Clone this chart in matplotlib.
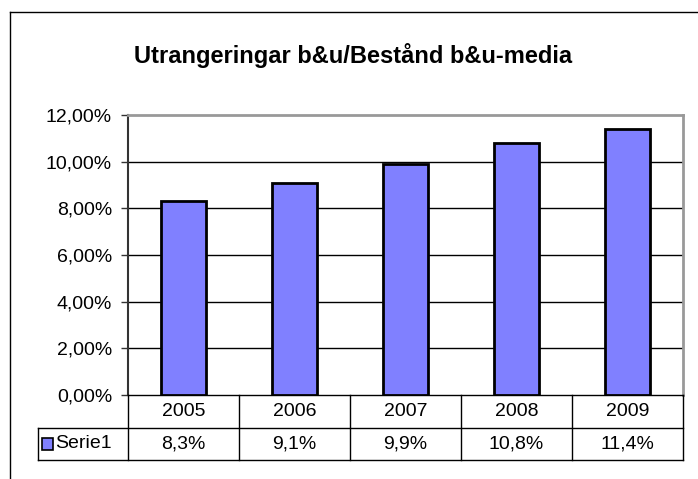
import matplotlib
matplotlib.use("Agg")
import matplotlib.pyplot as plt
from matplotlib.lines import Line2D
from matplotlib.patches import Rectangle

plt.rcParams['font.family'] = ['Liberation Sans', 'DejaVu Sans']

years = ['2005', '2006', '2007', '2008', '2009']
values = [0.083, 0.091, 0.099, 0.108, 0.114]
value_labels = ['8,3%', '9,1%', '9,9%', '10,8%', '11,4%']
yticks = [0.0, 0.02, 0.04, 0.06, 0.08, 0.10, 0.12]
ytick_labels = ['0,00%', '2,00%', '4,00%', '6,00%', '8,00%', '10,00%', '12,00%']
series_name = 'Serie1'
title = 'Utrangeringar b&u/Bestånd b&u-media'

W, H = 698, 479
fig = plt.figure(figsize=(W / 100, H / 100), dpi=100)


def fx(px):
    return px / W


def fy(py):
    return 1 - py / H


# plot area in pixel coords
L, T, R, B = 128, 115, 683, 395
ax = fig.add_axes([fx(L), fy(B), fx(R) - fx(L), fy(T) - fy(B)])

x = range(len(years))
ax.bar(x, values, width=0.41, color='#8080ff', edgecolor='black', linewidth=2, zorder=3)

ax.set_xlim(-0.5, len(years) - 0.5)
ax.set_ylim(0, 0.12)
ax.set_yticks(yticks)
ax.set_yticklabels(ytick_labels, fontsize=14)
ax.set_xticks([])
ax.tick_params(axis='y', length=5, width=1, pad=6.5, color='#333333')
for yv in yticks[1:-1]:
    ax.axhline(yv, color='black', linewidth=1, zorder=1)

ax.spines['left'].set_color('#333333')
ax.spines['left'].set_linewidth(1.5)
for s in ('top', 'right'):
    ax.spines[s].set_color('#999999')
    ax.spines[s].set_linewidth(2)
ax.spines['bottom'].set_color('black')
ax.spines['bottom'].set_linewidth(1)

# data table under the axis
row1, row2 = 428, 460
line_kw = dict(color='black', linewidth=1)
fig.add_artist(Line2D([fx(38), fx(R)], [fy(row1), fy(row1)], **line_kw))
fig.add_artist(Line2D([fx(38), fx(R)], [fy(row2), fy(row2)], **line_kw))
fig.add_artist(Line2D([fx(38), fx(38)], [fy(row1), fy(row2)], **line_kw))
cell_w = (R - L) / len(years)
for i in range(len(years) + 1):
    xp = L + i * cell_w
    fig.add_artist(Line2D([fx(xp), fx(xp)], [fy(B), fy(row2)], **line_kw))

for i in range(len(years)):
    cx = L + (i + 0.5) * cell_w
    fig.text(fx(cx), fy((B + row1) / 2), years[i], ha='center', va='center', fontsize=14)
    fig.text(fx(cx), fy((row1 + row2) / 2), value_labels[i], ha='center', va='center', fontsize=14)

# legend key in the table
fig.add_artist(Rectangle((fx(42), fy(450)), fx(11), fy(438) - fy(450),
                         facecolor='#8080ff', edgecolor='black', linewidth=1.2))
fig.text(fx(55), fy((row1 + row2) / 2), series_name, ha='left', va='center', fontsize=14)

fig.text(fx(353), fy(55), title, ha='center', va='center', fontsize=17, fontweight='bold')

# chart border
fig.add_artist(Line2D([fx(10), fx(10)], [fy(12), 0], color='black', linewidth=1))
fig.add_artist(Line2D([fx(10), 1], [fy(12), fy(12)], color='black', linewidth=1))

fig.savefig('out.png', dpi=100)
